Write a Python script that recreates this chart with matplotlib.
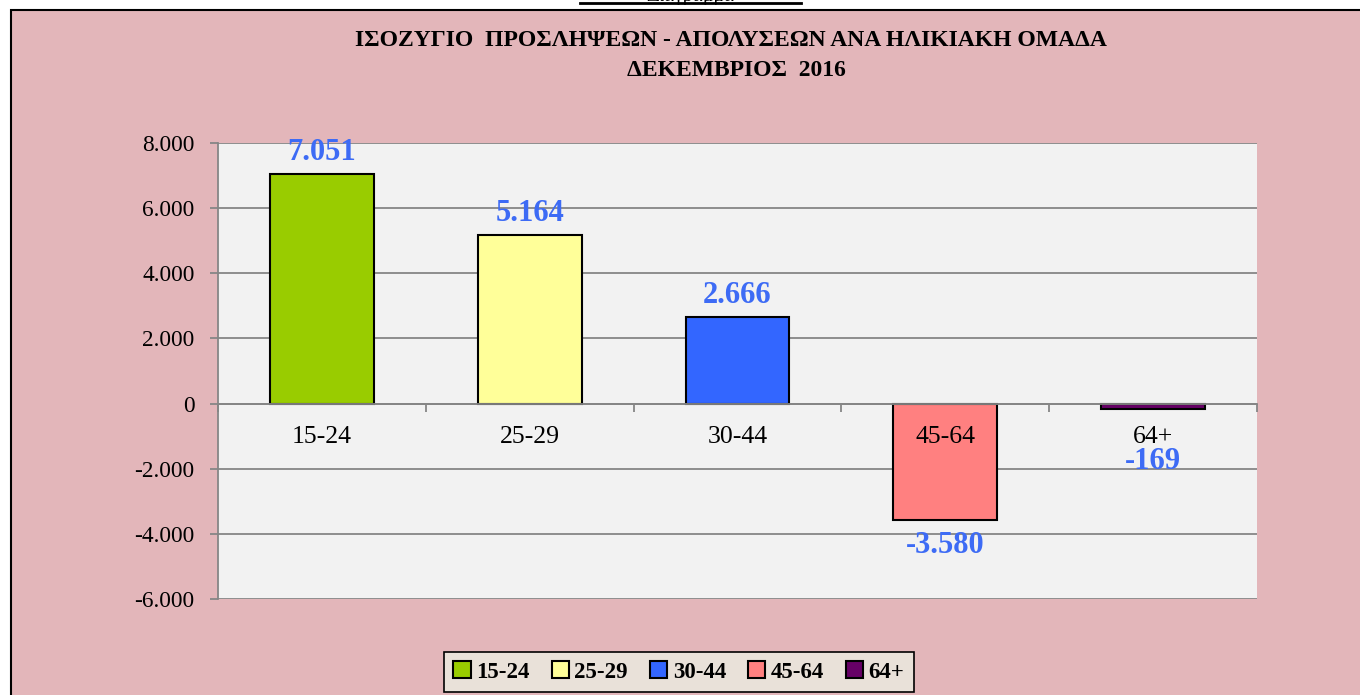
import matplotlib
matplotlib.use("Agg")
import matplotlib.pyplot as plt
from matplotlib.patches import Rectangle, Patch
from matplotlib.lines import Line2D
from matplotlib.ticker import FuncFormatter, FixedLocator

categories = ["15-24", "25-29", "30-44", "45-64", "64+"]
values = [7051, 5164, 2666, -3580, -169]
colors = ["#99CC00", "#FFFF99", "#3366FF", "#FF8080", "#660066"]
title_line1 = "ΙΣΟΖΥΓΙΟ  ΠΡΟΣΛΗΨΕΩΝ - ΑΠΟΛΥΣΕΩΝ ΑΝΑ ΗΛΙΚΙΑΚΗ ΟΜΑΔΑ"
title_line2 = "ΔΕΚΕΜΒΡΙΟΣ  2016"
yticks = [-6000, -4000, -2000, 0, 2000, 4000, 6000, 8000]

W, H = 1360, 695
plt.rcParams['font.family'] = ['Liberation Serif', 'DejaVu Serif']
fig = plt.figure(figsize=(W / 100, H / 100), dpi=100)
fig.patch.set_facecolor("white")

def fx(px):
    return px / W

def fy(py):
    return 1 - py / H

# chart area background with border
bg = Rectangle((fx(11), -0.1), 1.2, fy(10) + 0.1, transform=fig.transFigure,
               facecolor="#E3B6BA", edgecolor="black", linewidth=1.5, zorder=-5)
fig.patches.append(bg)

# partially visible heading at the very top
fig.text(fx(690), fy(5), "Διάγραμμα", ha="center", va="bottom", fontsize=14, color="black")
fig.add_artist(Line2D([fx(580), fx(801)], [fy(3), fy(3)], transform=fig.transFigure,
                      color="black", linewidth=2))

# titles
fig.text(fx(731), fy(41), title_line1, ha="center", va="center", fontsize=17,
         fontweight="bold", color="black")
fig.text(fx(736), fy(70), title_line2, ha="center", va="center", fontsize=17,
         fontweight="bold", color="black")

ax = fig.add_axes([fx(218), fy(599), fx(1257) - fx(218), fy(143) - fy(599)])
ax.set_zorder(2)
ax.set_facecolor("#F2F2F2")
ax.set_axisbelow(True)

x = list(range(len(categories)))
ax.bar(x, values, width=0.5, color=colors, edgecolor="black", linewidth=1.5, zorder=2)

ax.set_xlim(-0.5, len(categories) - 0.5)
ax.set_ylim(-6000, 8000)
ax.yaxis.set_major_locator(FixedLocator(yticks))
ax.yaxis.set_major_formatter(FuncFormatter(lambda v, p: f"{int(v):,}".replace(",", ".")))
ax.grid(axis="y", color="#868686", linewidth=1.3, zorder=0)
ax.tick_params(axis="y", direction="out", length=6, width=1.3, color="#868686",
               labelsize=16.8, pad=11, labelcolor="black")

for side in ["top", "right"]:
    ax.spines[side].set_visible(False)
ax.spines["left"].set_color("#868686")
ax.spines["left"].set_linewidth(1.3)
ax.spines["bottom"].set_position(("data", 0))
ax.spines["bottom"].set_color("#868686")
ax.spines["bottom"].set_linewidth(1.3)
ax.set_xticks([i - 0.5 for i in range(len(categories) + 1)])
ax.set_xticklabels([])
ax.tick_params(axis="x", direction="out", length=6, width=1.3, color="#868686")

for i, (c, v) in enumerate(zip(categories, values)):
    ax.annotate(c, xy=(i, 0), xytext=(0, -33), textcoords="offset pixels",
                ha="center", va="center", fontsize=18.5, color="black", zorder=5)
    label = f"{v:,}".replace(",", ".")
    if v >= 0:
        ax.annotate(label, xy=(i, v), xytext=(0, 7), textcoords="offset pixels",
                    ha="center", va="bottom", fontsize=22, fontweight="bold",
                    color="#3D6BF5", zorder=5)
    elif v < -1000:
        ax.annotate(label, xy=(i, v), xytext=(0, -11), textcoords="offset pixels",
                    ha="center", va="top", fontsize=22, fontweight="bold",
                    color="#3D6BF5", zorder=5)
    else:
        ax.annotate(label, xy=(i, 0), xytext=(0, -58), textcoords="offset pixels",
                    ha="center", va="center", fontsize=22, fontweight="bold",
                    color="#3D6BF5", zorder=5)

handles = [Patch(facecolor=col, edgecolor="black", linewidth=1.5) for col in colors]
leg = fig.legend(handles, categories, loc="center", bbox_to_anchor=(fx(679), fy(672)),
                 ncol=5, frameon=True, fancybox=False, edgecolor="black",
                 facecolor="#E9E1D9", framealpha=1,
                 prop={"size": 16.5, "weight": "bold"},
                 handlelength=0.75, handleheight=0.75, handletextpad=0.25,
                 columnspacing=0.95, borderpad=0.4)
leg.get_frame().set_linewidth(1.2)

fig.savefig("out.png", dpi=100, facecolor=fig.get_facecolor())
